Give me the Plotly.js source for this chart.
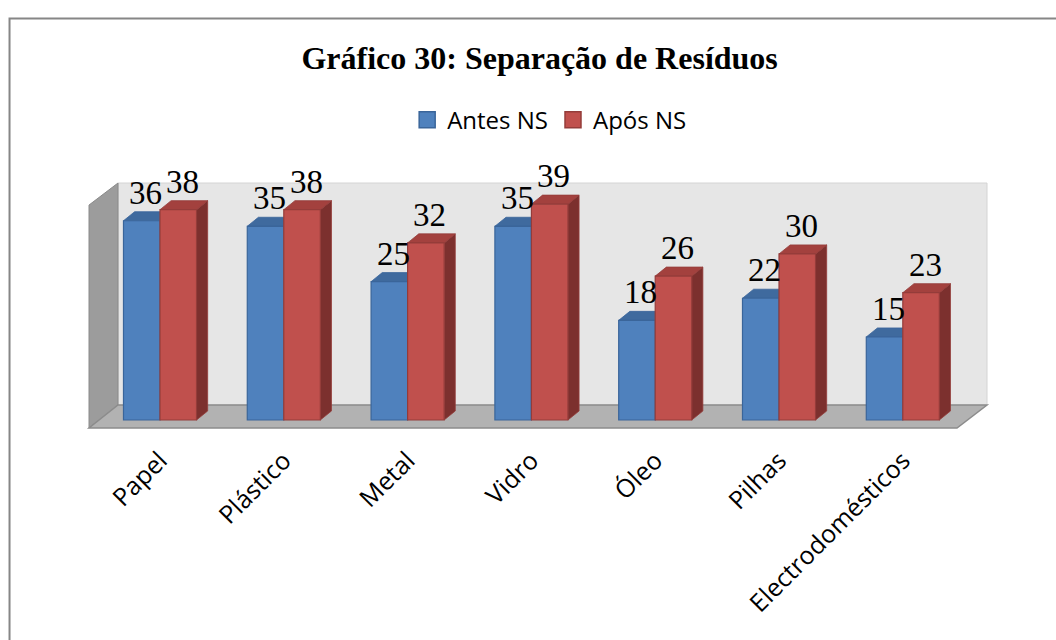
<!DOCTYPE html>
<html>
<head>
<meta charset="utf-8">
<script src="https://cdn.plot.ly/plotly-3.0.1.min.js"></script>
<style>html,body{margin:0;padding:0;background:#fff;}#chart{width:1056px;height:640px;}</style>
</head>
<body>
<div id="chart"></div>
<script>
const categories = ["Papel", "Plástico", "Metal", "Vidro", "Óleo", "Pilhas", "Electrodomésticos"];
const antesNS = [36, 35, 25, 35, 18, 22, 15];
const aposNS = [38, 38, 32, 39, 26, 30, 23];
const seriesNames = ["Antes NS", "Após NS"];

const idx = categories.map((_, i) => i);
const BAR_W = 0.295;      // (1 - bargap) / 2
const DX = 0.09;          // 3D depth offset, x data units
const DY = 1.63;          // 3D depth offset, y data units

const styles = [
  {front: "#4f81bd", line: "#3a659a", top: "#3f6a9e", side: "#2f5280"},
  {front: "#c0504d", line: "#943c3a", top: "#a3413e", side: "#7c302e"}
];

const traces = [antesNS, aposNS].map((vals, s) => ({
  type: "bar",
  name: seriesNames[s],
  x: idx,
  y: vals,
  showlegend: false,
  marker: {color: styles[s].front, line: {color: styles[s].line, width: 1.2}},
  hoverinfo: "skip"
}));
// legend entries with larger square swatches
seriesNames.forEach((n, s) => {
  traces.push({type: "scatter", mode: "markers", name: n, x: [null], y: [null],
    marker: {symbol: "square", size: 16, color: styles[s].front, line: {color: styles[s].line, width: 1.5}},
    hoverinfo: "skip"});
});

const shapes = [];
// frame
shapes.push({type: "path", xref: "paper", yref: "paper", layer: "above",
  path: "M -0.0885,-2 L -0.0885,1.6714 L 1.3,1.6714",
  line: {color: "#868686", width: 2}});
// back wall
shapes.push({type: "rect", xref: "paper", yref: "paper", layer: "below",
  x0: 0.0323, x1: 1, y0: 0.0939, y1: 1, fillcolor: "#e6e6e6", line: {color: "#d4d4d4", width: 1}});
// left wall
shapes.push({type: "path", xref: "paper", yref: "paper", layer: "below",
  path: "M 0,0 L 0,0.910 L 0.0323,1 L 0.0323,0.0939 Z", fillcolor: "#9c9c9c", line: {color: "#8a8a8a", width: 1}});
// floor
shapes.push({type: "path", xref: "paper", yref: "paper", layer: "below",
  path: "M 0,0 L 0.9666,0 L 1,0.0939 L 0.0323,0.0939 Z", fillcolor: "#b2b2b2", line: {color: "#8c8c8c", width: 1.5}});

// 3D faces of bars, computed from data
[antesNS, aposNS].forEach((vals, s) => {
  vals.forEach((v, i) => {
    const x0 = i + (s === 0 ? -BAR_W : 0);
    const x1 = x0 + BAR_W;
    shapes.push({type: "path", xref: "x", yref: "y", layer: "below",
      path: `M ${x1},0 L ${x1 + DX},${DY} L ${x1 + DX},${v + DY} L ${x1},${v} Z`,
      fillcolor: styles[s].side, line: {color: styles[s].line, width: 0.8}});
    shapes.push({type: "path", xref: "x", yref: "y", layer: "below",
      path: `M ${x0},${v} L ${x0 + DX},${v + DY} L ${x1 + DX},${v + DY} L ${x1},${v} Z`,
      fillcolor: styles[s].top, line: {color: styles[s].line, width: 0.8}});
  });
});

const annotations = [];
[antesNS, aposNS].forEach((vals, s) => {
  vals.forEach((v, i) => {
    annotations.push({
      x: i + (s === 0 ? -BAR_W / 2 : BAR_W / 2), y: v, xref: "x", yref: "y",
      text: String(v), showarrow: false, yanchor: "middle", xanchor: "center",
      yshift: 28, xshift: 4,
      font: {family: "Liberation Serif, Times New Roman, serif", size: 33, color: "#000"}
    });
  });
});

const layout = {
  width: 1056, height: 640,
  margin: {l: 89, r: 69, t: 183, b: 212},
  paper_bgcolor: "#ffffff", plot_bgcolor: "rgba(0,0,0,0)",
  title: {text: "<b>Gráfico 30: Separação de Resíduos</b>", x: 0.511, xanchor: "center",
    y: 0.909, yanchor: "middle",
    font: {family: "Liberation Serif, Times New Roman, serif", size: 32, color: "#000"}},
  barmode: "group", bargap: 0.41, bargroupgap: 0,
  showlegend: true,
  legend: {orientation: "h", x: 0.513, xanchor: "center", y: 1.257, yanchor: "middle",
    font: {family: "Open Sans, sans-serif", size: 24, color: "#000"}, itemwidth: 30, itemsizing: "trace"},
  xaxis: {type: "linear", range: [-0.5735, 6.680], tickvals: idx, ticktext: categories,
    tickangle: -45, showgrid: false, zeroline: false, showline: false, ticks: "",
    ticklabelstandoff: 12,
    tickfont: {family: "Open Sans, sans-serif", size: 25, color: "#000"}, fixedrange: true},
  yaxis: {range: [-1.445, 42.82], showgrid: false, zeroline: false, showline: false,
    showticklabels: false, ticks: "", fixedrange: true},
  shapes: shapes,
  annotations: annotations
};

Plotly.newPlot("chart", traces, layout, {staticPlot: true, displayModeBar: false});
</script>
</body>
</html>
